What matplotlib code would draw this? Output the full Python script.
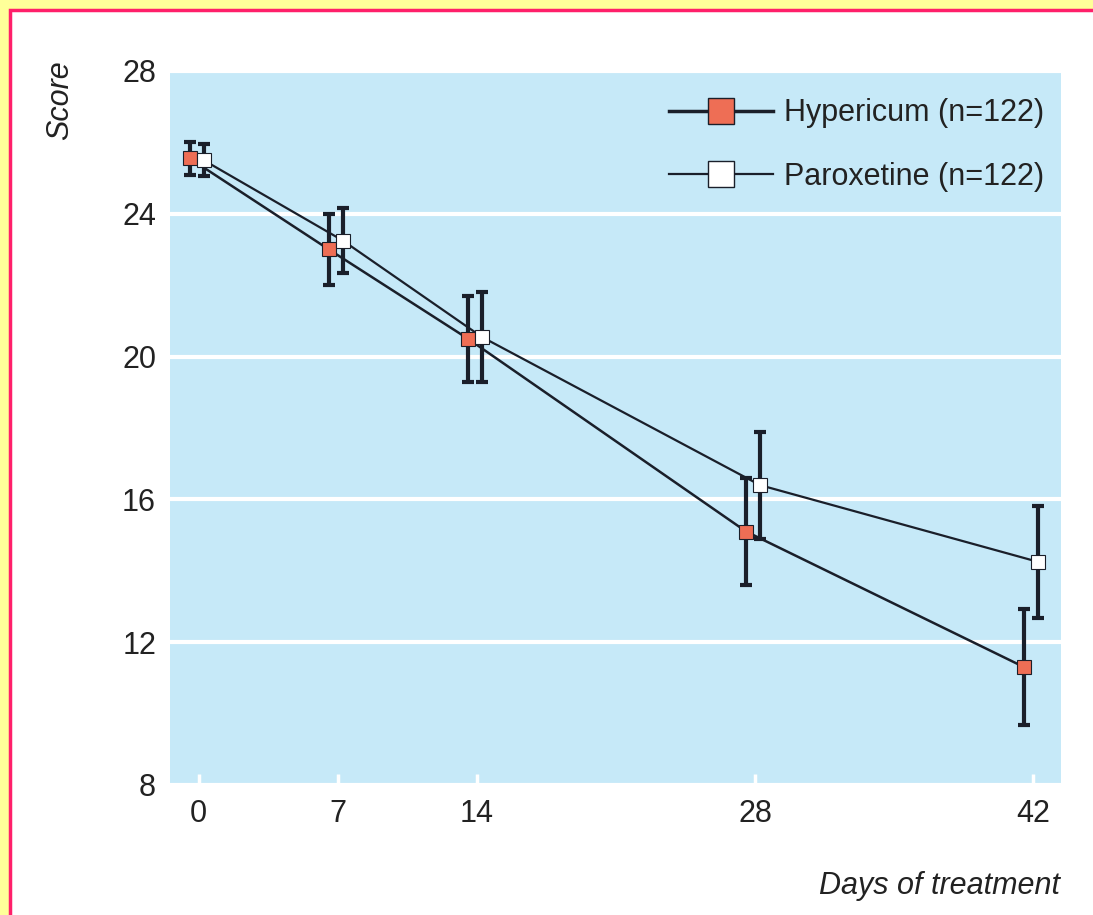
import matplotlib
matplotlib.use('Agg')
import matplotlib.pyplot as plt
from matplotlib.patches import Rectangle
import numpy as np

# Data
days = [0, 7, 14, 28, 42]
hyp_mean = [25.55, 23.0, 20.5, 15.1, 11.3]
hyp_err = [0.45, 1.0, 1.2, 1.5, 1.62]
par_mean = [25.5, 23.25, 20.55, 16.4, 14.25]
par_err = [0.45, 0.9, 1.25, 1.5, 1.57]
hyp_label = 'Hypericum (n=122)'
par_label = 'Paroxetine (n=122)'

plt.rcParams['font.family'] = ['Liberation Sans', 'DejaVu Sans']

bg_blue = '#c6e9f8'
hyp_color = '#ee6e55'
dark = '#1a1f2a'

fig = plt.figure(figsize=(10.93, 9.15), dpi=100)
fig.patch.set_facecolor('#ffff99')
# white page with pink border
page = Rectangle((10 / 1093, -0.05), 1.1, 1.05 - 10 / 915, transform=fig.transFigure,
                 facecolor='white', edgecolor='#ff1f6a', linewidth=2.5, zorder=-10)
fig.patches.append(page)

ax = fig.add_axes([170 / 1093, 1 - 785 / 915, 891 / 1093, 714 / 915])
ax.set_facecolor(bg_blue)
for s in ax.spines.values():
    s.set_visible(False)

ax.set_xlim(-1.45, 43.4)
ax.set_ylim(8, 28)
ax.set_yticks([8, 12, 16, 20, 24, 28])
ax.set_xticks(days)
ax.yaxis.grid(True, color='white', linewidth=3)
ax.set_axisbelow(True)
ax.tick_params(axis='y', length=0, labelsize=22, pad=10, labelcolor='#222222')
ax.tick_params(axis='x', direction='in', color='white', length=8, width=2.5,
               labelsize=22, pad=10, labelcolor='#222222')

d = np.array(days, dtype=float)
ax.plot(d - 0.45, hyp_mean, color=dark, linewidth=1.8, zorder=3)
ax.plot(d + 0.25, par_mean, color=dark, linewidth=1.6, zorder=3)
ax.errorbar(d - 0.45, hyp_mean, yerr=hyp_err, fmt='none', ecolor=dark,
            elinewidth=3, capsize=4, capthick=3, zorder=4)
ax.errorbar(d + 0.25, par_mean, yerr=par_err, fmt='none', ecolor=dark,
            elinewidth=3, capsize=4, capthick=3, zorder=4)
ax.plot(d - 0.45, hyp_mean, 's', markersize=9.5, markerfacecolor=hyp_color,
        markeredgecolor=dark, markeredgewidth=0.8, zorder=5)
ax.plot(d + 0.25, par_mean, 's', markersize=9.5, markerfacecolor='white',
        markeredgecolor=dark, markeredgewidth=0.8, zorder=5)

# legend handles
h1, = ax.plot([], [], '-s', color=dark, linewidth=2.5, markersize=19,
              markerfacecolor=hyp_color, markeredgecolor=dark, markeredgewidth=1)
h2, = ax.plot([], [], '-s', color=dark, linewidth=1.6, markersize=19,
              markerfacecolor='white', markeredgecolor=dark, markeredgewidth=1)
leg = ax.legend([h1, h2], [hyp_label, par_label], loc='upper right',
                bbox_to_anchor=(1.012, 1.0), frameon=False, fontsize=22,
                handlelength=3.4, handletextpad=0.35, labelspacing=1.1)
for t in leg.get_texts():
    t.set_color('#222222')

fig.text(60 / 1093, 1 - 100 / 915, 'Score', rotation=90, style='italic',
         fontsize=22, ha='center', va='center', color='#222222')
fig.text(1060 / 1093, 1 - 886 / 915, 'Days of treatment', style='italic',
         fontsize=22, ha='right', va='center', color='#222222')

fig.savefig('out.png', dpi=100, facecolor=fig.get_facecolor())
